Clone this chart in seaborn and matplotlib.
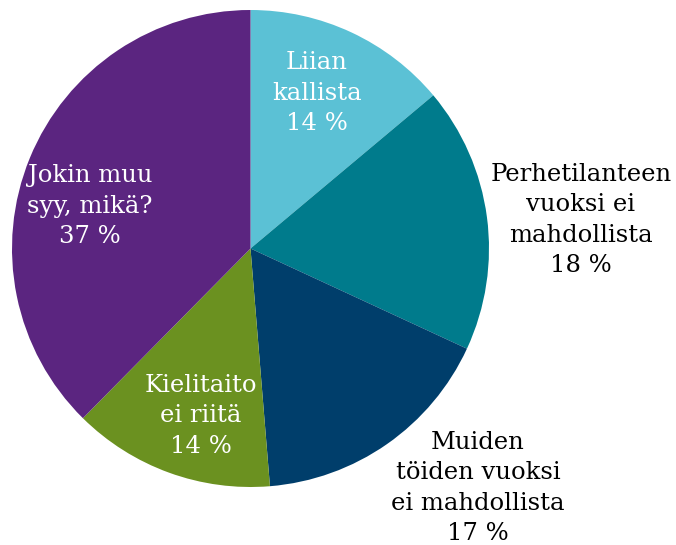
import matplotlib
matplotlib.use("Agg")
import matplotlib.pyplot as plt
import seaborn as sns

labels = ["Liian\nkallista", "Perhetilanteen\nvuoksi ei\nmahdollista",
          "Muiden\ntöiden vuoksi\nei mahdollista", "Kielitaito\nei riitä",
          "Jokin muu\nsyy, mikä?"]
# slice sizes as measured from the drawing, and the percentages printed on it
shares = [13.9, 18.0, 16.8, 13.7, 37.6]
printed = [14, 18, 17, 14, 37]
colors = ["#5bc1d5", "#007b8c", "#003e6b", "#6b9120", "#5b2580"]
text_colors = ["white", "black", "black", "white", "white"]
# label block centres in pixels of the original picture
label_px = [(317, 93), (581, 220), (478, 488), (201, 416), (90, 206)]

sns.set_theme(style="white")
plt.rcParams["font.family"] = ["DejaVu Serif"]

cx, cy, r = 250.5, 248.5, 238.5
fig = plt.figure(figsize=(6.76, 5.45), dpi=100)
ax = fig.add_axes([(cx - r) / 676, (545 - cy - r) / 545, 2 * r / 676, 2 * r / 545])
ax.pie(shares, colors=colors, startangle=90, counterclock=False, radius=1,
       wedgeprops=dict(linewidth=0))
ax.set_xlim(-1, 1)
ax.set_ylim(-1, 1)
ax.set_aspect("equal")
ax.axis("off")

for lab, val, tc, (px, py) in zip(labels, printed, text_colors, label_px):
    x = (px - cx) / r
    y = (cy - py) / r
    ax.text(x, y, f"{lab}\n{val} %", ha="center", va="center", color=tc,
            fontsize=17.5, linespacing=1.42, clip_on=False)

fig.savefig("out.png", dpi=100)
